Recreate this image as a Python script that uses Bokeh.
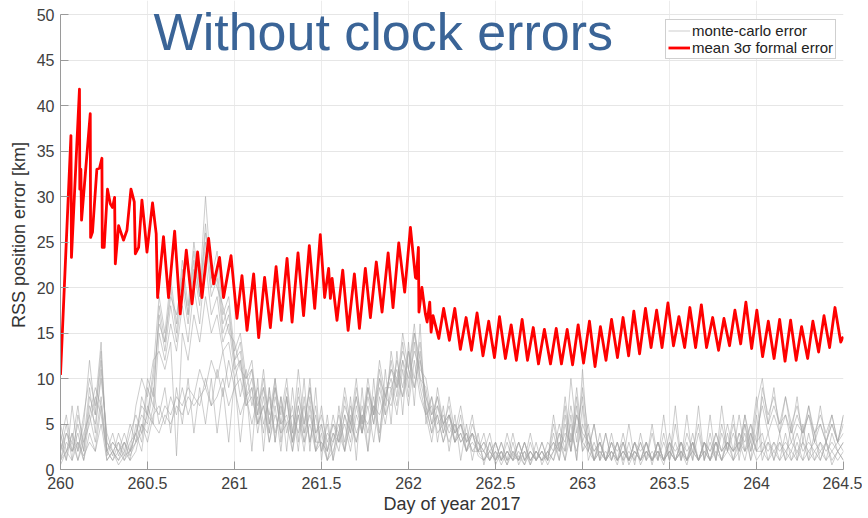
from bokeh.plotting import figure
from bokeh.models import Range1d, FixedTicker, Label, Legend, LegendItem, NumeralTickFormatter
from bokeh.embed import file_html
from bokeh.resources import INLINE

# ---------------- data ----------------
X_TICKS = [260, 260.5, 261, 261.5, 262, 262.5, 263, 263.5, 264, 264.5]
Y_TICKS = [0, 5, 10, 15, 20, 25, 30, 35, 40, 45, 50]
Y_MAX = 50

# mean 3-sigma formal error (peaks / troughs)
RED_DAY = [260.000, 260.060, 260.063, 260.109, 260.111, 260.117, 260.121, 260.171, 260.173, 260.184,
           260.209, 260.224, 260.238, 260.240, 260.251, 260.270, 260.286, 260.299, 260.311, 260.315,
           260.334, 260.362, 260.382, 260.405, 260.424, 260.430, 260.449, 260.468, 260.483, 260.497,
           260.529, 260.550, 260.558, 260.592, 260.621, 260.656, 260.688, 260.723, 260.756, 260.788,
           260.813, 260.851, 260.880, 260.914, 260.937, 260.980, 261.014, 261.043, 261.072, 261.110,
           261.139, 261.173, 261.206, 261.239, 261.269, 261.302, 261.331, 261.365, 261.397, 261.430,
           261.461, 261.493, 261.518, 261.541, 261.551, 261.561, 261.589, 261.622, 261.653, 261.689,
           261.718, 261.752, 261.781, 261.815, 261.848, 261.883, 261.911, 261.944, 261.978, 262.011,
           262.040, 262.045, 262.057, 262.060, 262.077, 262.097, 262.107, 262.122, 262.130, 262.141,
           262.174, 262.202, 262.235, 262.266, 262.298, 262.331, 262.362, 262.394, 262.428, 262.461,
           262.494, 262.523, 262.557, 262.590, 262.620, 262.653, 262.684, 262.717, 262.747, 262.781,
           262.816, 262.849, 262.879, 262.912, 262.943, 262.975, 263.006, 263.040, 263.072, 263.103,
           263.135, 263.167, 263.201, 263.233, 263.265, 263.295, 263.328, 263.362, 263.394, 263.426,
           263.457, 263.491, 263.523, 263.554, 263.587, 263.617, 263.650, 263.683, 263.713, 263.748,
           263.782, 263.813, 263.845, 263.876, 263.909, 263.939, 263.972, 264.002, 264.035, 264.068,
           264.101, 264.133, 264.164, 264.196, 264.228, 264.259, 264.294, 264.324, 264.357, 264.388,
           264.420, 264.451, 264.484, 264.499]
RED_KM = [10.4, 36.7, 23.3, 41.8, 30.8, 33.0, 27.4, 39.1, 25.5, 26.1,
          33.0, 33.1, 34.2, 24.4, 24.4, 30.8, 29.2, 28.8, 29.9, 22.6,
          26.8, 25.2, 26.3, 30.8, 29.4, 23.7, 24.4, 29.6, 26.8, 23.9,
          29.3, 25.9, 18.9, 25.6, 18.9, 26.2, 17.1, 24.1, 18.2, 23.9,
          18.9, 25.4, 20.4, 23.3, 18.9, 23.5, 16.6, 21.3, 15.3, 21.5,
          14.5, 21.1, 15.6, 22.3, 16.4, 23.2, 16.2, 23.8, 16.9, 24.6,
          17.7, 25.8, 18.9, 22.1, 18.8, 21.0, 16.4, 21.9, 15.3, 21.5,
          15.5, 22.1, 16.7, 22.8, 17.3, 23.8, 17.8, 24.9, 19.5, 26.6,
          21.1, 21.0, 24.4, 17.3, 20.0, 17.1, 16.2, 18.4, 15.1, 16.9,
          14.4, 17.7, 14.2, 17.7, 13.2, 16.7, 13.1, 17.2, 12.5, 16.3,
          12.3, 16.8, 12.2, 15.9, 12.0, 16.5, 12.0, 15.6, 11.6, 15.4,
          11.6, 15.5, 11.6, 15.4, 11.5, 15.9, 11.7, 16.3, 11.3, 15.7,
          12.0, 16.5, 12.3, 16.7, 12.5, 17.4, 12.7, 17.7, 13.4, 17.5,
          13.4, 18.3, 13.6, 16.8, 13.4, 17.8, 13.4, 18.1, 13.4, 16.7,
          13.1, 16.6, 13.6, 17.5, 13.8, 18.4, 13.3, 17.5, 12.4, 16.3,
          12.2, 16.5, 11.9, 16.4, 12.0, 15.7, 12.2, 16.3, 12.9, 16.9,
          13.4, 17.8, 14.0, 14.6]

# monte-carlo runs, sampled every MC_STEP days from MC_START
MC_START = 260.0
MC_STEP = 1.0 / 30.0
MC_RUN_1 = [2,5,1,6,3, 9,4,11, 3,1.5,4,2,5, 3,8,6,11, 19,15,21,16,23,18,25,20,30,21, 24,17,19,13,15,10,
            12,6,10,5,9,4,8,3,9,4,10,3, 7,2,6, 3,8,4,9,5,10,6,11,7, 12,8,14,9,15,10, 9,5,8,4,8,4,7,3,6,2,
            4,1,3,1,4,1.5,3,1,4,1,3,1, 6,2,8,3,9,3,
            5,1,4,1,3,1,4,1,3,1,3,0.5,3,1,4,1,3,1,4,1,3,1,4,2,5,2, 6,2,5,3, 4,1,3,1,4,1,3,1,4,1,3,1,4,2,3]
MC_RUN_2 = [4,1,7,2,5, 12,6,13, 2,4,1.5,3,1, 5,3,9,7, 18,14,20,15,22,17,24,19,27,20, 22,16,18,12,14,9,
            11,5,9,4,10,3,8,2,7,3,8,2, 5,1,4, 2,6,3,7,4,8,5,9,6, 13,9,15,11,16,10, 7,4,9,5,7,3,6,2,5,3,
            2,4,1,3,1,4,1,3,1,2,1,3, 2,5,2,10,4,8,
            2,5,1,4,1,3,1,5,1,3,1,4,1,3,1,5,1,3,1,4,1,3,1,4,2,4, 2,6,2,7, 10,5,9,4,8,4,8,3,7,3,7,3,6,3,6]
MC_RUN_3 = [1,3,2,4,1, 6,3,8, 2,1,3,1.5,4, 6,4,10,8, 17,13,18,14,20,16,22,18,25,19, 21,15,17,12,13,8,
            10,6,11,5,9,6,10,4,11,5,9,4, 6,3,5, 4,9,5,10,4,9,6,12,8, 10,7,12,8,14,9, 6,3,7,4,6,3,5,2,4,2,
            3,1,2,1,3,1,2,0.5,3,1,2,1, 4,1,6,2,7,2,
            4,1,3,1,2,0.5,3,1,2,1,3,1,2,0.5,3,1,2,1,3,1,2,1,3,1,4,1, 3,1,4,2, 9,6,8,5,8,5,7,4,7,4,6,4,6,3,6]
MC_RUN_4 = [3,6,2,5,2, 7,5,10, 4,2,3,1,2, 4,2,7,5, 15,12,16,13,18,14,20,16,23,17, 19,14,16,11,12,8,
            9,4,8,3,7,2,8,3,6,2,7,2, 4,1,3, 5,2,6,3,7,4,8,4,9, 9,11,8,13,9,12, 8,5,6,3,5,3,4,2,4,1.5,
            1,3,1,2,0.5,2,1,3,0.5,2,1,2, 3,1,5,2,6,3,
            2,1,3,1,2,1,3,0.5,2,1,3,1,2,1,3,1,2,0.5,3,1,2,1,3,1,3,1, 4,2,3,1, 2,4,1,3,1,2,1,3,1,2,1,3,1,2,1]
MC_RUN_5 = [0.5,2,1,3,1.5, 3,2,5, 1,2,0.5,1.5,2, 3,5,4,7, 6,9,4,9,5,10,4,9,5,10, 4,9,3,10,3,9,
            2,10,2,9,3,8,2,9,3,10,2,9, 1,6,1, 7,2,8,1,9,2,10,3,11, 5,13,6,14,7,16, 5,8,3,7,2,6,1,5,1,4,
            0.5,3,0.5,2,0.5,3,0.5,2,0.5,3,0.5,2, 1,4,1,6,1,11,
            2,5,1,4,1,3,0.5,3,0.5,4,1,5,1,6,1,7,1,6,1,7,1,6,1,7,2,6, 1,5,1,6, 1,3,1,4,1,5,1,5,1,4,1,3,0.5,2,1]
MC_RUN_6 = [2,4,3,7,2, 8,6,12, 3,2,1,2,1, 2,5,3,6, 7,5,8,6,9,6,8,7,10,7, 11,8,12,9,10,7,
            8,5,7,4,8,5,6,3,7,4,6,3, 3,2,4, 3,5,2,6,4,7,3,8,5, 9,6,11,7,12,8, 6,7,4,5,3,5,3,4,2,3,
            2,1,2,0.5,2,1,1.5,0.5,2,1,2,0.5, 2,3,1,4,2,5,
            3,2,3,1,2,1,2,1,3,2,3,1,2,1,2,1,3,2,3,1,3,2,4,2,3,2, 4,3,5,2, 3,2,3,2,3,2,4,2,3,2,3,2,3,2,3]
MC_RUN_7 = [1,2,4,1,3, 5,8,6, 2,3,2,1,3, 4,6,5,9, 5,7,6,8,7,9,8,11,9,12, 10,13,9,12,8,11,
            7,9,5,8,4,7,5,6,4,7,3,6, 2,4,3, 6,3,7,4,6,5,7,6,8, 11,9,12,10,13,11, 10,6,8,5,6,4,5,3,4,3,
            1,2,1,2,1,1.5,1,2,1,2,1,1.5, 3,2,4,3,6,4,
            3,1,2,1,3,1,2,1,2,1,2,1,3,1,2,1,2,1,3,1,3,1,3,2,3,2, 3,5,2,4, 7,4,6,4,6,3,5,4,6,3,5,3,5,3,5]
MC_RUN_8 = [3,1,4,2,6, 10,7,14, 1.5,3,2,4,2, 7,10,8,12, 13,11,14,1.5,15,12,17,14,19,15, 17,13,14,10,12,7,
            9,5,7,3,6,4,5,2,6,3,5,2, 3,1,2, 4,7,5,8,4,9,5,10,6, 8,12,9,13,10,14, 7,4,6,3,6,3,4,2,3,2,
            2,1,3,1,2,1,3,1,2,1,2,1, 5,2,7,2,8,2,
            3,1,2,1,4,1,2,1,3,0.5,2,1,3,1,2,1,3,1,2,1,3,1,2,1,2,1, 2,4,1,3, 8,5,7,5,6,4,6,4,6,4,5,3,5,3,4]
MC_RUN_9 = [1,4,2,3,1, 4,2,7, 1,2,1,3,2, 4,7,6,10, 16,14,19,17,21,17,23,19,26,22, 20,18,15,14,11,10,
            11,7,9,6,10,5,9,4,8,5,9,4, 5,2,5, 3,6,4,8,5,9,6,10,8, 11,10,13,11,15,12, 8,6,7,5,6,4,5,3,4,2,
            3,2,3,1,2,1,3,1,2,1,3,1, 2,4,3,7,3,9,
            4,2,3,1,3,2,3,1,3,1,2,1,3,1,3,2,3,1,2,1,3,2,3,1,3,2, 3,2,4,2, 2,3,2,3,2,3,2,3,2,3,2,3,2,3,2]
MC_RUN_10 = [5,2,3,1,4, 6,9,7, 2,1,2,3,1.5, 3,4,6,5, 4,6,5,7,6,8,7,8,9,7, 8,10,7,9,6,8,
             5,8,4,9,3,8,4,7,2,8,3,7, 2,5,1, 4,2,5,3,6,2,7,3,8, 7,10,8,11,9,13, 6,8,5,6,4,5,3,4,2,2,
             1,2,1,3,1,2,1,3,1,2,1,2, 1,3,2,5,1,7,
             1,3,1,2,1,3,1,2,1,3,1,2,1,4,1,3,1,4,2,5,1,4,1,5,2,5, 2,6,3,8, 2,1,2,1,2,1,2,1,2,1,2,1,2,1,2]
MC_RUNS = [MC_RUN_1, MC_RUN_2, MC_RUN_3, MC_RUN_4, MC_RUN_5,
           MC_RUN_6, MC_RUN_7, MC_RUN_8, MC_RUN_9, MC_RUN_10]

TITLE = "Without clock errors"
FONT = "Liberation Sans"

# ---------------- figure ----------------
# the frame reaches a little above 50 km so that the big title (which pokes
# above the axes box in the reference) is not clipped; axis line stops at 50.
PX_PER_KM = 9.1
TOP_PAD_PX = 14
Y_TOP = Y_MAX + TOP_PAD_PX / PX_PER_KM

p = figure(width=862, height=518, output_backend="svg", toolbar_location=None,
           x_range=Range1d(260, 264.5), y_range=Range1d(0, Y_TOP),
           min_border_left=60, min_border_right=19, min_border_top=0, min_border_bottom=49)
p.background_fill_color = "white"
p.border_fill_color = "white"
p.outline_line_color = None

mc_xs, mc_ys = [], []
for run in MC_RUNS:
    days = [MC_START + k * MC_STEP for k in range(len(run))]
    mc_xs.append(days)
    mc_ys.append(run)

mc = p.multi_line(mc_xs, mc_ys, line_color="#a6a6a6", line_alpha=0.7, line_width=0.8)
red = p.line(RED_DAY, RED_KM, line_color="#ff0000", line_width=2.8, line_join="round")

# axes
for ax in (p.xaxis[0], p.yaxis[0]):
    ax.major_label_text_font = FONT
    ax.major_label_text_font_size = "16px"
    ax.major_label_text_color = "#404040"
    ax.axis_label_text_font = FONT
    ax.axis_label_text_font_size = "18px"
    ax.axis_label_text_font_style = "normal"
    ax.axis_label_text_color = "#333333"
    ax.axis_line_color = "#9a9a9a"
    ax.major_tick_line_color = "#9a9a9a"
    ax.major_tick_in = 8
    ax.major_tick_out = 0
    ax.minor_tick_line_color = None

p.xaxis.ticker = FixedTicker(ticks=X_TICKS)
p.xaxis.formatter = NumeralTickFormatter(format="0.[0]")
p.xaxis.axis_label = "Day of year 2017"
p.xaxis.major_label_standoff = 7
p.xaxis.axis_label_standoff = 2

p.yaxis.ticker = FixedTicker(ticks=Y_TICKS)
p.yaxis.bounds = (0, Y_MAX)
p.yaxis.axis_label = "RSS position error [km]"
p.yaxis.major_label_standoff = 6
p.yaxis.axis_label_standoff = 5

p.xgrid.ticker = FixedTicker(ticks=X_TICKS)
p.ygrid.ticker = FixedTicker(ticks=Y_TICKS)
p.xgrid.grid_line_color = "#ececec"
p.ygrid.grid_line_color = "#e6e6e6"

# title drawn inside the axes
p.add_layout(Label(x=261.855, y=48.13, text=TITLE, text_align="center",
                   text_baseline="middle", text_font=FONT, text_font_size="52px",
                   text_color="#3a6497"))

legend = Legend(items=[LegendItem(label="monte-carlo error", renderers=[mc]),
                       LegendItem(label="mean 3σ formal error", renderers=[red])],
                location=(605, 410), margin=0, padding=2, spacing=0,
                label_text_font=FONT, label_text_font_size="15px", label_text_color="#222222",
                label_height=17, glyph_height=17, glyph_width=22, label_standoff=2,
                border_line_color="#a0a0a0", border_line_width=1,
                background_fill_color="white", background_fill_alpha=1.0)
p.add_layout(legend)

open("out.html", "w").write(file_html(p, INLINE))
